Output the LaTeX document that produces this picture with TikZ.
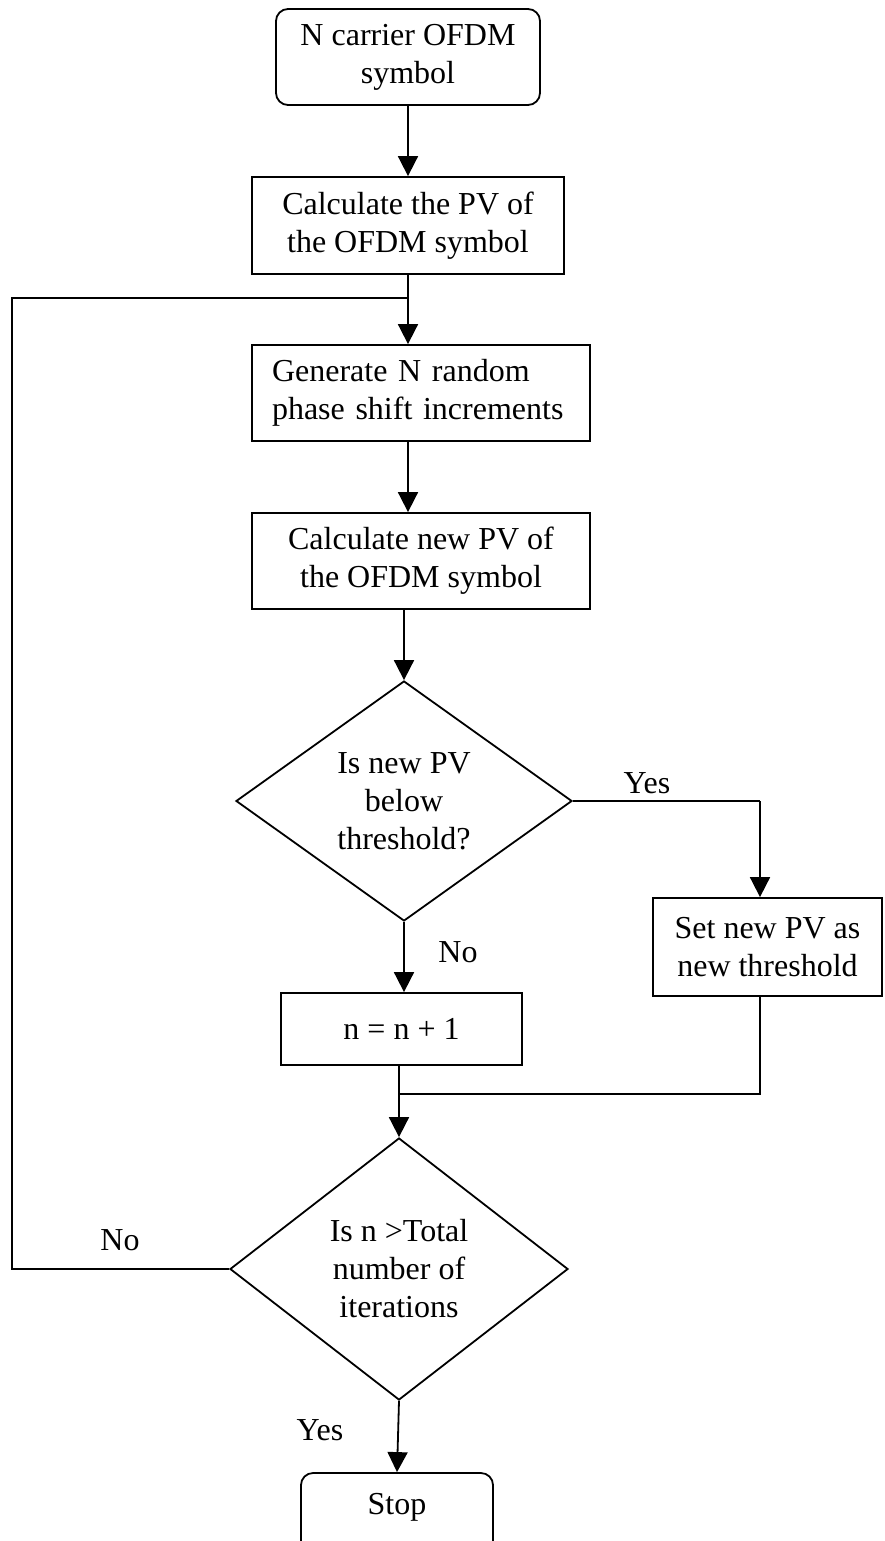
\documentclass[tikz,border=0pt]{standalone}
\usepackage{fontspec}
\setmainfont{Liberation Serif}
\usetikzlibrary{shapes.geometric,arrows.meta}
\begin{document}
\begin{tikzpicture}[x=1pt,y=-1pt,
  every node/.style={font=\fontsize{32}{38}\selectfont},
  stepbox/.style={draw,line width=1.8pt,rectangle,align=center,inner sep=0pt},
  termbox/.style={stepbox,rounded corners=12pt},
  decide/.style={draw,line width=1.8pt,diamond,align=center,inner sep=0pt},
  conn/.style={line width=1.8pt},
  arr/.style={conn,-{Triangle[width=20pt,length=20pt]}},
  lbl/.style={inner sep=0pt}]
\useasboundingbox (0,0) rectangle (885,1541);

% process steps
\node[termbox,minimum width=264pt,minimum height=96pt] (start) at (408,57) {N carrier OFDM\\symbol};
\node[stepbox,minimum width=312pt,minimum height=97pt] (pv) at (408,225.5) {Calculate the PV of\\the OFDM symbol};
\node[stepbox,minimum width=338pt,minimum height=96pt,text width=298pt,align=left] (gen) at (421,393) {Generate N random\\phase shift increments};
\node[stepbox,minimum width=338pt,minimum height=96pt] (newpv) at (421,561) {Calculate new PV of\\the OFDM symbol};
\node[decide,minimum width=336pt,minimum height=240pt] (below) at (404,801) {Is new PV\\below\\threshold?};
\node[stepbox,minimum width=229pt,minimum height=98pt] (setth) at (767.5,947) {Set new PV as\\new threshold};
\node[stepbox,minimum width=241pt,minimum height=72pt] (inc) at (401.5,1029) {n = n + 1};
\node[decide,minimum width=338pt,minimum height=262pt] (total) at (399,1269) {Is n >Total\\number of\\iterations};
\node[termbox,minimum width=192pt,minimum height=92pt] (stop) at (397,1519) {};
\node (stoptext) at (397,1507) {Stop};

% branch labels
\node[lbl] (yes1) at (647,783) {Yes};
\node[lbl] (no1) at (458,952) {No};
\node[lbl] (no2) at (120,1240) {No};
\node[lbl] (yes2) at (320,1430) {Yes};

% helper points for the bends
\coordinate (loopc) at (12,298);
\coordinate (join) at (408,298);
\coordinate (yesturn) at (760,801);
\coordinate (merge) at (399,1094);

% connectors
\draw[arr] (start.south) -- (pv.north);
\draw[arr] (pv.south) -- (pv.south |- gen.north);
\draw[arr] (gen.south -| pv.south) -- (pv.south |- newpv.north);
\draw[arr] (newpv.south -| below.north) -- (below.north);
\draw[conn] (below.east) -- (yesturn);
\draw[arr] (yesturn) -- (yesturn |- setth.north);
\draw[arr] (below.south) -- (inc.north -| below.south);
\draw[arr] (inc.south -| total.north) -- (total.north);
\draw[conn] (setth.south -| yesturn) |- (merge);
\draw[conn] (total.west) -| (loopc) -- (join);
\draw[arr] (total.south) -- (stop.north);
\end{tikzpicture}
\end{document}
